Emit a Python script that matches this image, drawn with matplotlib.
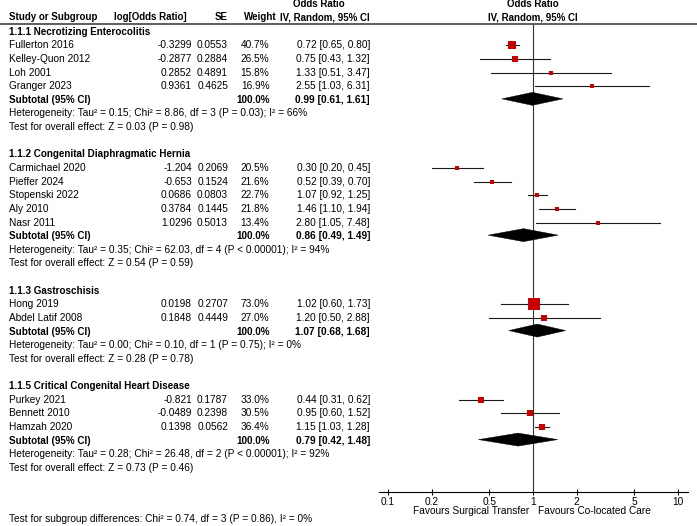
import matplotlib
matplotlib.use("Agg")
import matplotlib.pyplot as plt
from matplotlib.patches import Polygon

plt.rcParams['font.family'] = ['Liberation Sans', 'DejaVu Sans']

# ---------------- data ----------------
groups = [
    "1.1.1 Necrotizing Enterocolitis",
    "1.1.2 Congenital Diaphragmatic Hernia",
    "1.1.3 Gastroschisis",
    "1.1.5 Critical Congenital Heart Disease",
]
studies = [
    ["Fullerton 2016", "Kelley-Quon 2012", "Loh 2001", "Granger 2023"],
    ["Carmichael 2020", "Pieffer 2024", "Stopenski 2022", "Aly 2010", "Nasr 2011"],
    ["Hong 2019", "Abdel Latif 2008"],
    ["Purkey 2021", "Bennett 2010", "Hamzah 2020"],
]
log_or = [
    ["-0.3299", "-0.2877", "0.2852", "0.9361"],
    ["-1.204", "-0.653", "0.0686", "0.3784", "1.0296"],
    ["0.0198", "0.1848"],
    ["-0.821", "-0.0489", "0.1398"],
]
se = [
    ["0.0553", "0.2884", "0.4891", "0.4625"],
    ["0.2069", "0.1524", "0.0803", "0.1445", "0.5013"],
    ["0.2707", "0.4449"],
    ["0.1787", "0.2398", "0.0562"],
]
weight = [
    [40.7, 26.5, 15.8, 16.9],
    [20.5, 21.6, 22.7, 21.8, 13.4],
    [73.0, 27.0],
    [33.0, 30.5, 36.4],
]
or_est = [
    [0.72, 0.75, 1.33, 2.55],
    [0.30, 0.52, 1.07, 1.46, 2.80],
    [1.02, 1.20],
    [0.44, 0.95, 1.15],
]
or_lo = [
    [0.65, 0.43, 0.51, 1.03],
    [0.20, 0.39, 0.92, 1.10, 1.05],
    [0.60, 0.50],
    [0.31, 0.60, 1.03],
]
or_hi = [
    [0.80, 1.32, 3.47, 6.31],
    [0.45, 0.70, 1.25, 1.94, 7.48],
    [1.73, 2.88],
    [0.62, 1.52, 1.28],
]
sub_est = [0.99, 0.86, 1.07, 0.79]
sub_lo = [0.61, 0.49, 0.68, 0.42]
sub_hi = [1.61, 1.49, 1.68, 1.48]
heterogeneity = [
    "Heterogeneity: Tau² = 0.15; Chi² = 8.86, df = 3 (P = 0.03); I² = 66%",
    "Heterogeneity: Tau² = 0.35; Chi² = 62.03, df = 4 (P < 0.00001); I² = 94%",
    "Heterogeneity: Tau² = 0.00; Chi² = 0.10, df = 1 (P = 0.75); I² = 0%",
    "Heterogeneity: Tau² = 0.28; Chi² = 26.48, df = 2 (P < 0.00001); I² = 92%",
]
overall = [
    "Test for overall effect: Z = 0.03 (P = 0.98)",
    "Test for overall effect: Z = 0.54 (P = 0.59)",
    "Test for overall effect: Z = 0.28 (P = 0.78)",
    "Test for overall effect: Z = 0.73 (P = 0.46)",
]
subgroup_diff = "Test for subgroup differences: Chi² = 0.74, df = 3 (P = 0.86), I² = 0%"
tick_vals = [0.1, 0.2, 0.5, 1, 2, 5, 10]
tick_labels = ["0.1", "0.2", "0.5", "1", "2", "5", "10"]
fav_left = "Favours Surgical Transfer"
fav_right = "Favours Co-located Care"

# ---------------- layout ----------------
W, H = 697, 526
FS = 7.3
FSH = 7.0
ROW0, ROWH = 31.7, 13.63
AX_L, AX_R, AX_B = 379, 688, 492
PX_DEC = 145.0
X_NAME, X_LOG, X_SE, X_W, X_OR = 9, 192, 228, 269.5, 370
CI_COL = '#1a1a1a'
RED = '#C80000'

def yrow(i):
    return ROW0 + ROWH * i

fig = plt.figure(figsize=(W / 100, H / 100), dpi=100)
tab = fig.add_axes([0, 0, 1, 1])
tab.set_xlim(0, W)
tab.set_ylim(H, 0)
tab.axis('off')

fa = fig.add_axes([AX_L / W, (H - AX_B) / H, (AX_R - AX_L) / W, AX_B / H])
fa.set_xscale('log')
lo_log = -1 - (388 - AX_L) / PX_DEC
hi_log = 1 + (AX_R - 678) / PX_DEC
fa.set_xlim(10 ** lo_log, 10 ** hi_log)
fa.set_ylim(AX_B, 0)
fa.patch.set_alpha(0)
for s in ['top', 'left', 'right']:
    fa.spines[s].set_visible(False)
fa.spines['bottom'].set_linewidth(0.8)
fa.set_yticks([])
fa.set_xticks(tick_vals)
fa.set_xticklabels(tick_labels, fontsize=FS)
fa.xaxis.set_minor_locator(matplotlib.ticker.NullLocator())
fa.tick_params(axis='x', direction='inout', length=5, width=0.8, pad=1)

# headers
tab.text(319, 4, "Odds Ratio", fontsize=FSH, fontweight='bold', ha='center', va='center')
tab.text(533, 4, "Odds Ratio", fontsize=FSH, fontweight='bold', ha='center', va='center')
hy = 17
tab.text(X_NAME, hy, "Study or Subgroup", fontsize=FSH, fontweight='bold', ha='left', va='center')
tab.text(187, hy, "log[Odds Ratio]", fontsize=FSH, fontweight='bold', ha='right', va='center')
tab.text(X_SE, hy, "SE", fontsize=FSH, fontweight='bold', ha='right', va='center')
tab.text(277, hy, "Weight", fontsize=FSH, fontweight='bold', ha='right', va='center')
tab.text(X_OR, hy, "IV, Random, 95% CI", fontsize=FSH, fontweight='bold', ha='right', va='center')
tab.text(533, hy, "IV, Random, 95% CI", fontsize=FSH, fontweight='bold', ha='center', va='center')
tab.plot([0, W], [24, 24], color='#333333', lw=1.1, solid_capstyle='butt')

# reference line at OR = 1
fa.vlines(1, 24, AX_B, color='#333333', lw=0.8)

idx = 0
for g in range(len(groups)):
    tab.text(X_NAME, yrow(idx), groups[g], fontsize=7.1, fontweight='bold', ha='left', va='center')
    idx += 1
    for k in range(len(studies[g])):
        y = yrow(idx)
        tab.text(X_NAME, y, studies[g][k], fontsize=FS, ha='left', va='center')
        tab.text(X_LOG, y, log_or[g][k], fontsize=FS, ha='right', va='center')
        tab.text(X_SE, y, se[g][k], fontsize=FS, ha='right', va='center')
        tab.text(X_W, y, f"{weight[g][k]:.1f}%", fontsize=FS, ha='right', va='center')
        tab.text(X_OR, y, f"{or_est[g][k]:.2f} [{or_lo[g][k]:.2f}, {or_hi[g][k]:.2f}]",
                 fontsize=FS, ha='right', va='center')
        fa.plot([or_lo[g][k], or_hi[g][k]], [y, y], color=CI_COL, lw=0.8, zorder=3)
        side = 0.155 * weight[g][k] + 1.0
        fa.plot([or_est[g][k]], [y], marker='s', markersize=side * 0.72,
                color=RED, markeredgewidth=0, zorder=4)
        idx += 1
    y = yrow(idx)
    tab.text(X_NAME, y, "Subtotal (95% CI)", fontsize=7.1, fontweight='bold', ha='left', va='center')
    tab.text(X_W, y, "100.0%", fontsize=7.1, fontweight='bold', ha='right', va='center')
    tab.text(X_OR, y, f"{sub_est[g]:.2f} [{sub_lo[g]:.2f}, {sub_hi[g]:.2f}]",
             fontsize=7.3, fontweight='bold', ha='right', va='center')
    yd = y - 1
    dia = Polygon([(sub_lo[g], yd), (sub_est[g], yd - 6.5), (sub_hi[g], yd), (sub_est[g], yd + 6.5)],
                  closed=True, facecolor='black', edgecolor='black', lw=0.3, zorder=4)
    fa.add_patch(dia)
    idx += 1
    tab.text(X_NAME, yrow(idx), heterogeneity[g], fontsize=FS, ha='left', va='center')
    idx += 1
    tab.text(X_NAME, yrow(idx), overall[g], fontsize=FS, ha='left', va='center')
    idx += 2

tab.text(X_NAME, 519, subgroup_diff, fontsize=FS, ha='left', va='center')
tab.text(529, 511.5, fav_left, fontsize=FS, ha='right', va='center')
tab.text(538, 511.5, fav_right, fontsize=FS, ha='left', va='center')

fig.savefig("out.png", dpi=100)
